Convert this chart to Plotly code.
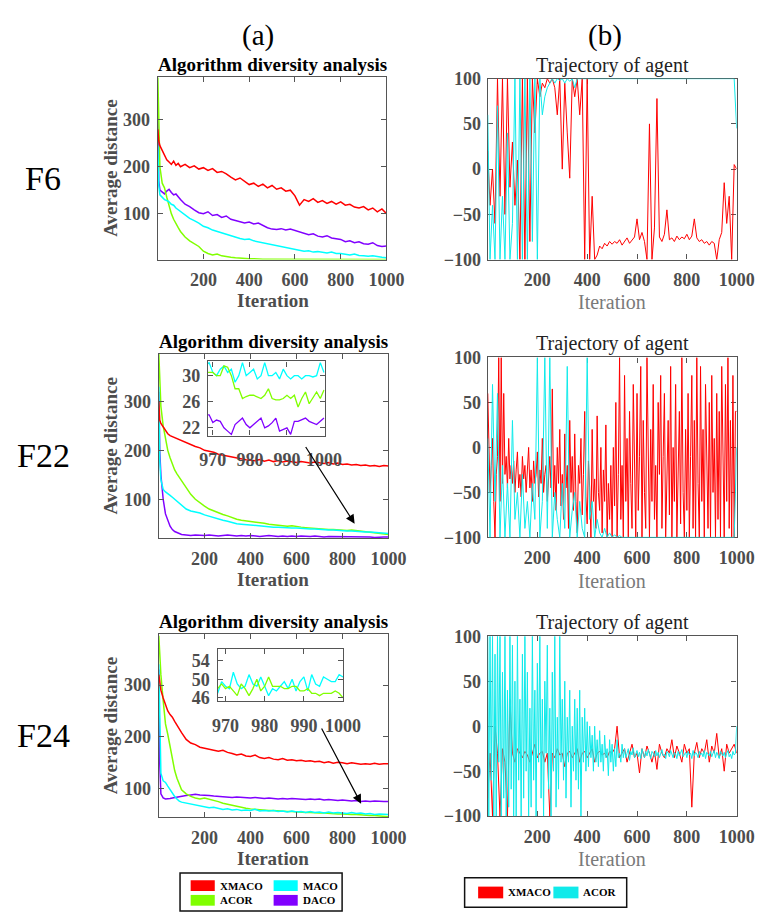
import plotly.graph_objects as go

# ---------------- data ----------------
DIV_ITER = [1, 5, 10, 20, 30, 40, 50, 60, 70, 80, 90, 100,
            120, 140, 160, 180, 200, 220, 240, 260, 280, 300,
            320, 340, 360, 380, 400, 420, 440, 460, 480, 500,
            520, 540, 560, 580, 600, 620, 640, 660, 680, 700,
            720, 740, 760, 780, 800, 820, 840, 860, 880, 900,
            920, 940, 960, 980, 1000]

# F6 diversity
F6_XMACO = [280, 255, 245, 235, 222, 215, 210, 205, 212, 203,
            207, 200, 205, 198, 202, 195, 198, 192, 196, 188,
            190, 185, 178, 172, 176, 168, 162, 165, 158, 163,
            155, 160, 152, 155, 148, 150, 138, 118, 130, 126,
            132, 124, 128, 122, 126, 120, 125, 118, 120, 114,
            112, 115, 108, 112, 104, 110, 100]
F6_MACO = [245, 160, 140, 135, 130, 128, 125, 120, 118, 112,
           108, 105, 98, 90, 85, 80, 73, 70, 65, 62,
           58, 55, 52, 50, 47, 45, 46, 42, 40, 38,
           35, 33, 31, 30, 28, 26, 23, 22, 20, 21,
           18, 19, 17, 16, 18, 15, 15, 13, 12, 14,
           11, 10, 9, 10, 8, 7, 6]
F6_ACOR = [390, 260, 200, 165, 155, 135, 115, 100, 88, 78,
           70, 62, 50, 42, 36, 30, 20, 15, 12, 14,
           10, 8, 7, 6, 5, 5, 4, 4, 3, 3,
           3, 3, 2, 2, 2, 2, 2, 2, 2, 2,
           2, 2, 2, 2, 2, 2, 2, 2, 2, 2,
           2, 2, 2, 2, 2, 2, 2]
F6_DACO = [325, 170, 150, 145, 142, 148, 152, 145, 140, 142,
           135, 130, 120, 115, 108, 102, 100, 104, 96, 98,
           92, 95, 88, 85, 82, 80, 82, 78, 80, 75,
           70, 67, 66, 68, 65, 67, 64, 62, 58, 55,
           57, 52, 50, 53, 48, 46, 45, 40, 42, 38,
           40, 36, 35, 38, 32, 30, 31]

# F22 diversity
F22_XMACO = [300, 262, 255, 248, 240, 234, 230, 228, 225, 223,
             222, 220, 215, 212, 208, 205, 200, 198, 196, 192,
             190, 188, 186, 184, 182, 181, 180, 179, 181, 178,
             180, 177, 179, 176, 178, 177, 175, 177, 176, 174,
             176, 175, 173, 175, 172, 174, 171, 172, 170, 171,
             169, 170, 168, 169, 167, 169, 168]
F22_MACO = [330, 180, 140, 120, 115, 112, 108, 104, 100, 96,
            92, 88, 80, 76, 74, 72, 68, 65, 62, 60,
            57, 55, 52, 50, 49, 48, 47, 46, 45, 45,
            44, 43, 43, 42, 42, 41, 41, 40, 40, 39,
            39, 38, 38, 37, 37, 36, 36, 35, 35, 34,
            34, 33, 33, 32, 31, 31, 30]
F22_ACOR = [398, 330, 290, 250, 220, 200, 185, 172, 160, 152,
            145, 138, 122, 110, 100, 92, 86, 80, 76, 72,
            69, 66, 62, 59, 57, 56, 55, 54, 53, 51,
            49, 48, 47, 46, 45, 46, 44, 43, 42, 41,
            40, 40, 39, 38, 38, 37, 37, 36, 37, 36,
            35, 34, 33, 31, 30, 29, 28]
F22_DACO = [320, 200, 150, 100, 70, 55, 45, 38, 34, 32,
            30, 28, 27, 26, 27, 26, 26, 27, 26, 25,
            26, 27, 26, 25, 26, 25, 26, 25, 24, 25,
            26, 25, 24, 25, 24, 25, 24, 25, 24, 24,
            25, 24, 23, 24, 24, 23, 24, 23, 24, 23,
            23, 24, 23, 22, 23, 23, 23]

# F24 diversity
F24_XMACO = [320, 300, 290, 275, 260, 250, 243, 238, 230, 222,
             215, 208, 195, 188, 185, 180, 178, 176, 175, 172,
             174, 170, 168, 165, 167, 163, 162, 165, 160, 158,
             160, 157, 156, 158, 155, 156, 154, 155, 153, 154,
             152, 153, 150, 152, 149, 151, 150, 148, 150, 149,
             147, 148, 147, 149, 147, 148, 148]
F24_MACO = [340, 200, 130, 115, 112, 105, 98, 90, 85, 80,
            76, 74, 72, 70, 68, 66, 65, 63, 64, 62,
            60, 61, 59, 60, 58, 59, 58, 60, 57, 58,
            57, 58, 56, 57, 55, 57, 55, 56, 54, 56,
            54, 55, 53, 55, 53, 54, 53, 52, 54, 52,
            53, 51, 52, 50, 51, 50, 50]
F24_ACOR = [395, 350, 320, 270, 225, 205, 180, 155, 135, 120,
            108, 98, 90, 85, 82, 80, 82, 80, 78, 75,
            72, 70, 67, 65, 63, 62, 61, 60, 60, 59,
            58, 58, 57, 57, 56, 56, 55, 55, 54, 54,
            53, 53, 53, 52, 52, 51, 51, 50, 50, 50,
            49, 49, 48, 48, 47, 47, 46]
F24_DACO = [330, 150, 90, 82, 80, 80, 81, 82, 83, 84,
            85, 85, 87, 88, 89, 88, 88, 87, 86, 85,
            85, 84, 83, 84, 83, 82, 82, 83, 82, 81,
            82, 81, 80, 81, 80, 81, 80, 80, 79, 80,
            79, 80, 78, 79, 78, 77, 78, 77, 76, 77,
            75, 76, 75, 76, 75, 75, 75]

# zoomed insets (iterations 968..1000)
INSET_ITER = [968, 969, 970, 971, 972, 973, 974, 975, 976, 977,
              978, 979, 980, 981, 982, 983, 984, 985, 986, 987,
              988, 989, 990, 991, 992, 993, 994, 995, 996, 997,
              998, 999, 1000]
F22_IN_MACO = [31.5, 32, 30.5, 30, 31, 31.5, 30.5, 31, 29, 30,
               32, 30, 30.5, 31, 29.5, 30, 32, 30, 30, 30.5,
               29.5, 31, 30, 29.5, 30, 30, 29.5, 30, 30, 29.8,
               30, 32, 30.5]
F22_IN_ACOR = [30.5, 30.5, 30.5, 30, 30, 31.5, 31.3, 30, 28, 28,
               26.5, 26.8, 27, 27, 26.8, 26.5, 27, 28, 26.5, 26.3,
               26.3, 26.5, 27, 26.5, 27, 25.2, 26.5, 27.5, 25.7, 26.5,
               27.5, 26.5, 27.8]
F22_IN_DACO = [24, 24, 22.8, 23.2, 23, 22, 21.5, 21, 22.5, 23,
               23.5, 22.5, 22, 22.5, 23, 23.5, 22, 22.3, 22.8, 23.5,
               21.5, 21.8, 22, 21, 23, 23, 23.2, 23.5, 23, 22.8,
               22.5, 23, 23.5]
F24_IN_MACO = [47, 49.5, 48.5, 48, 51.5, 49, 48, 48.5, 51, 49,
               48.5, 50.5, 48.5, 46.5, 48, 47.5, 48.5, 49.5, 48, 50,
               47.5, 49.5, 50.5, 47.5, 51, 49, 48.5, 50.5, 50, 49.5,
               49.5, 51, 50.5]
F24_IN_ACOR = [48, 49, 48, 48.5, 47.5, 46.5, 49, 48, 46.5, 48,
               50, 47.5, 48.5, 50.5, 48.5, 48.5, 48.5, 48, 48, 48.5,
               48.5, 47.5, 47.5, 48, 47, 47, 46.5, 47, 47, 47,
               47.5, 47, 46]

# trajectories: coarse (1, 10, 20, ..., 1000) and fine (1, 5, 10, ..., 1000) sampling
TRAJ_ITER = [1] + list(range(10, 1001, 10))
TRAJ_ITER_FINE = [1] + list(range(5, 1001, 5))
F6_TR_XMACO = [20, -40, 0, -60, 100, -30, 100, -50, 100, -20,
               30, -40, 10, -100, 100, -100, 100, -80, 100, 40,
               100, 80, 95, 90, 100, 95, 100, 90, 60, 100,
               0, 95, 40, -10, 100, 80, 100, 60, 100, -100,
               100, -100, -30, -100, -95, -85, -88, -82, -85, -80,
               -83, -80, -82, -78, -84, -80, -76, -82, -78, -75,
               -55, -78, -70, -80, -100, 50, -100, -65, 78, -75,
               -80, -72, -45, -78, -76, -80, -74, -78, -75, -77,
               -72, -78, -74, -55, -76, -80, -78, -82, -80, -84,
               -80, -82, -100, -78, -70, -15, -60, -30, -100, 5,
               0]
F6_TR_ACOR = [60, -100, -40, -100, 70, -100, -30, -100, 40, -100,
              -60, 100, -100, 100, -100, 100, -100, 100, -80, 100,
              -100, 100, 60, 80, 90, 95, 100, 95, 100, 98,
              100, 95, 100, 97, 100, 90, 100, 100, 100, 100,
              100, 100, 100, 100, 100, 100, 100, 100, 100, 100,
              100, 100, 100, 100, 100, 100, 100, 100, 100, 100,
              100, 100, 100, 100, 100, 100, 100, 100, 100, 100,
              100, 100, 100, 100, 100, 100, 100, 100, 100, 100,
              100, 100, 100, 100, 100, 100, 100, 100, 100, 100,
              100, 100, 100, 100, 100, 100, 100, 100, 100, 100,
              45]
F22_TR_XMACO = [60, 0, -50, -20, 10, -60, -100, -30, -10, 100,
                -60, 100, -40, 60, -30, -10, -45, 10, -35, -20,
                -40, -15, -50, -25, -5, -45, -30, -55, -10, -35,
                -20, -50, -30, 0, -45, -25, -60, -15, -40, -30,
                -5, -55, -25, -40, 10, -50, -30, -20, -60, -35,
                -10, -45, 65, -55, -20, -70, 0, -40, 20, -65,
                -30, -80, 15, -45, -20, -90, 30, -50, -10, -70,
                15, -60, -95, -20, -40, 10, -75, -30, 40, -55,
                -85, -15, -45, -100, 20, -60, -35, -90, 35, -50,
                -70, 0, -95, -25, -60, 25, -100, -40, -80, -20,
                -100, 0, -65, 50, -100, -30, 100, -80, -20, -100,
                80, -60, 10, -100, 40, -40, -90, 70, -20, -100,
                60, -70, -10, 90, -100, 30, -50, -90, 100, -40,
                -100, 20, -60, 70, -80, -20, -100, 50, -30, 80,
                -90, -10, 60, -100, -40, 30, -75, 90, -100, 0,
                -60, 70, -100, -20, 40, -85, 100, -50, -100, 20,
                -70, 60, -100, -10, 80, -90, 30, -100, 100, -40,
                -100, 90, -60, 20, -100, 70, -30, -90, 50, -100,
                80, -50, 10, -100, 60, -80, 40, -100, 90, -20,
                -100, 70, -60, 100, -90, 30, -100, 80, -100, 40,
                40]
F22_TR_ACOR = [10, -100, 70, -60, 60, -100, -20, -100, -40, -100,
               30, -80, -50, -100, -30, -90, -60, -100, -40, -80,
               100, -100, -60, 100, -90, 100, -100, -50, -80, -100,
               -40, -90, 90, -100, -70, -50, -100, -60, -90, -100,
               100, -80, -60, -100, -80, -95, -100, -90, -100, -95,
               -100, -97, -100, -98, -100, -100, -100, -100, -100, -100,
               -100, -100, -100, -100, -100, -100, -100, -100, -100, -100,
               -100, -100, -100, -100, -100, -100, -100, -100, -100, -100,
               -100, -100, -100, -100, -100, -100, -100, -100, -100, -100,
               -100, -100, -100, -100, -100, -100, -100, -100, -100, -100,
               0]
F24_TR_XMACO = [-80, -30, -100, 0, -30, -100, -25, -40, -100, 30,
                -30, -40, -25, -30, -35, -28, -32, -40, -30, -20,
                -35, -30, -28, -40, -30, -100, -30, -35, -25, -32,
                -30, -45, -30, -28, -35, -30, -25, -40, -30, -28,
                -35, -30, -25, -40, -30, -28, -32, -30, -35, -28,
                -30, -25, 0, -35, -30, -25, -40, -30, -20, -35,
                -30, -52, -25, -35, -22, -30, -40, -28, -48, -20,
                -30, -35, -25, -30, -15, -35, -22, -30, -40, -20,
                -30, -25, -90, -30, -18, -35, -25, -30, -15, -40,
                -22, -30, -8, -35, -25, -50, -20, -30, -25, -20,
                -30]
F24_TR_ACOR = [100, -100, 100, -60, 100, -100, 80, -100, 100, -40,
               100, -100, 60, -80, 100, -100, 40, -90, 100, -70,
               90, -100, 50, -100, 100, -60, 30, -100, 80, -80,
               100, -50, 60, -100, 20, -90, 100, -60, 40, -100,
               70, -40, 100, -80, 30, -100, 50, -30, 90, -70,
               20, -100, 60, -50, 100, -90, 10, -70, 100, -40,
               30, -60, 50, -80, 10, -40, 40, -90, 0, -50,
               30, -60, 20, -70, 40, -100, 10, -40, 20, -50,
               5, -45, 0, -35, -10, -50, 0, -40, -15, -45,
               -5, -40, -20, -50, -10, -35, -25, -55, -15, -40,
               -20, -50, -25, -45, -15, -35, -30, -40, -20, -35,
               -25, -35, -30, -25, -38, -28, -32, -24, -35, -30,
               -27, -34, -29, -36, -25, -31, -35, -28, -33, -26,
               -32, -36, -28, -30, -34, -27, -33, -29, -35, -30,
               -26, -33, -31, -36, -28, -30, -34, -27, -32, -35,
               -29, -31, -36, -28, -33, -30, -26, -34, -31, -29,
               -35, -28, -32, -30, -36, -27, -33, -29, -31, -35,
               -28, -32, -30, -34, -27, -36, -29, -31, -33, -28,
               -34, -30, -27, -35, -29, -32, -36, -28, -31, -33,
               -29, -35, -30, -27, -34, -31, -36, -28, -32, -30,
               0]

X_TICKS = [200, 400, 600, 800, 1000]
DIV_Y_TICKS = [100, 200, 300]
TR_Y_TICKS = [-100, -50, 0, 50, 100]
F22_IN_Y_TICKS = [22, 26, 30]
F24_IN_Y_TICKS = [46, 50, 54]
IN_X_TICKS = [970, 980, 990, 1000]
ROW_LABELS = ["F6", "F22", "F24"]
LEFT_LEGEND = ["XMACO", "MACO", "ACOR", "DACO"]
RIGHT_LEGEND = ["XMACO", "ACOR"]

# ---------------- style ----------------
W, H = 765, 916
SERIF = "Liberation Serif"
FRAME = "#555555"
TICKTXT = "#4d4d4d"
C_X, C_M, C_A, C_D = "#ff0000", "#00ffff", "#80ff00", "#8000ff"
C_TRC = "#10eaea"


def bold_font(size, color):
    return dict(family=SERIF, size=size, color=color, weight="bold")


def px_x(p):
    return p / W


def px_y(p):
    return 1 - p / H


def xr(i):
    return "x" if i == 1 else f"x{i}"


def yr(i):
    return "y" if i == 1 else f"y{i}"


fig = go.Figure()
layout = {}


def add_line(i, x, y, color, width):
    assert len(x) == len(y), (len(x), len(y))
    fig.add_trace(go.Scatter(x=x, y=y, xaxis=xr(i), yaxis=yr(i), mode="lines",
                             line=dict(color=color, width=width),
                             showlegend=False, hoverinfo="skip"))


def set_axes(i, xpx, ypx, xrange, yrange, xt, yt, layer="above traces",
             xstand=4, ystand=3, fsize=18):
    common = dict(showline=True, linecolor=FRAME, linewidth=1.4, mirror="ticks",
                  ticks="inside", ticklen=5, tickwidth=1.2, tickcolor=FRAME,
                  showgrid=False, zeroline=False, layer=layer,
                  tickfont=bold_font(fsize, TICKTXT))
    xk = "xaxis" if i == 1 else f"xaxis{i}"
    yk = "yaxis" if i == 1 else f"yaxis{i}"
    layout[xk] = dict(domain=[px_x(xpx[0]), px_x(xpx[1])], anchor=yr(i), range=xrange,
                      tickvals=xt, ticklabelstandoff=xstand, **common)
    layout[yk] = dict(domain=[px_y(ypx[1]), px_y(ypx[0])], anchor=xr(i), range=yrange,
                      tickvals=yt, ticklabelstandoff=ystand, **common)


# left diversity panels (axes 1..3)
left_rows = [
    (1, (146, 383), (60, 247), [2, 392], (F6_XMACO, F6_MACO, F6_ACOR, F6_DACO)),
    (2, (147, 385), (343, 532), [20, 398], (F22_XMACO, F22_MACO, F22_ACOR, F22_DACO)),
    (3, (147, 385), (630, 817), [45, 398], (F24_XMACO, F24_MACO, F24_ACOR, F24_DACO)),
]
for i, xpx, ypx, yrange, (sx, sm, sa, sd) in left_rows:
    set_axes(i, xpx, ypx, [1, 1000], yrange, X_TICKS, DIV_Y_TICKS)
    add_line(i, DIV_ITER, sd, C_D, 1.5)
    add_line(i, DIV_ITER, sa, C_A, 1.5)
    add_line(i, DIV_ITER, sm, C_M, 1.5)
    add_line(i, DIV_ITER, sx, C_X, 1.5)

# right trajectory panels (axes 4..6)
right_rows = [
    (4, (62, 247), (TRAJ_ITER, F6_TR_XMACO), (TRAJ_ITER, F6_TR_ACOR)),
    (5, (347, 531), (TRAJ_ITER_FINE, F22_TR_XMACO), (TRAJ_ITER, F22_TR_ACOR)),
    (6, (632, 816), (TRAJ_ITER, F24_TR_XMACO), (TRAJ_ITER_FINE, F24_TR_ACOR)),
]
for i, ypx, (ix, tx), (ia, ta) in right_rows:
    set_axes(i, (488, 746), ypx, [1, 1000], [-100, 100], X_TICKS, TR_Y_TICKS,
             layer="below traces", ystand=2)
    add_line(i, ix, tx, C_X, 1.0)
    add_line(i, ia, ta, C_TRC, 1.0)

# insets (axes 7, 8)
set_axes(7, (198, 319), (351, 427), [968.7, 1000.2], [20.8, 32.2], IN_X_TICKS,
         F22_IN_Y_TICKS, xstand=8)
add_line(7, INSET_ITER, F22_IN_MACO, C_M, 1.3)
add_line(7, INSET_ITER, F22_IN_ACOR, C_A, 1.3)
add_line(7, INSET_ITER, F22_IN_DACO, C_D, 1.3)
set_axes(8, (208, 338), (645, 698), [968, 1000], [45.4, 56.5], IN_X_TICKS,
         F24_IN_Y_TICKS, xstand=8)
add_line(8, INSET_ITER, F24_IN_MACO, C_M, 1.3)
add_line(8, INSET_ITER, F24_IN_ACOR, C_A, 1.3)

ann = []


def text(x, y, s, size, color="#000000", bold=False, xanchor="center",
         yanchor="middle", angle=0):
    font = bold_font(size, color) if bold else dict(family=SERIF, size=size, color=color)
    ann.append(dict(x=px_x(x), y=px_y(y), xref="paper", yref="paper", text=s,
                    showarrow=False, xanchor=xanchor, yanchor=yanchor, textangle=angle,
                    font=font))


text(250, 18, "(a)", 29)
text(610, 18, "(b)", 29)
for lbl, yy in zip(ROW_LABELS, [164, 447, 734]):
    text(27, yy, lbl, 34)

for top, bot, xl in [(60, 247, 264.5), (343, 532, 266), (630, 817, 266)]:
    text(xl, top, "Algorithm diversity analysis", 19, bold=True, yanchor="bottom")
    text(97, (top + bot) / 2, "Average distance", 19, color=TICKTXT, bold=True, angle=-90)
for yy in [289, 574, 859]:
    text(265, yy, "Iteration", 19, color=TICKTXT, bold=True)
for top, yy in [(62, 290), (347, 576), (632, 860)]:
    text(617, top, "Trajectory of agent", 20, color="#222222", yanchor="bottom")
    text(617, yy, "Iteration", 20, color="#7a7a7a")

# arrows from insets to the zoomed region
ann.append(dict(x=853, y=50, ax=636, ay=210, xref="x2", yref="y2", axref="x2", ayref="y2",
                text="", showarrow=True, arrowhead=2, arrowsize=1.5, arrowwidth=1.2,
                arrowcolor="#000000"))
ann.append(dict(x=881, y=71, ax=706, ay=219, xref="x3", yref="y3", axref="x3", ayref="y3",
                text="", showarrow=True, arrowhead=2, arrowsize=1.5, arrowwidth=1.2,
                arrowcolor="#000000"))

shapes = []


def rect(x0, y0, x1, y1, fill, line_color, lw):
    shapes.append(dict(type="rect", xref="paper", yref="paper",
                       x0=px_x(x0), x1=px_x(x1), y0=px_y(y1), y1=px_y(y0),
                       fillcolor=fill, line=dict(color=line_color, width=lw)))


# left legend
rect(169, 874, 337, 913, "white", "#111111", 1.5)
left_items = [(LEFT_LEGEND[0], C_X, 180, 887), (LEFT_LEGEND[1], C_M, 266, 887),
              (LEFT_LEGEND[2], C_A, 180, 902), (LEFT_LEGEND[3], C_D, 266, 902)]
for name, col, x0, yc in left_items:
    rect(x0, yc - 5.5, x0 + 25, yc + 5.5, col, col, 0)
    text(x0 + 28, yc, name, 11, bold=True, xanchor="left")

# right legend
rect(464, 879, 632, 909, "white", "#111111", 1.5)
for name, col, x0 in [(RIGHT_LEGEND[0], C_X, 478), (RIGHT_LEGEND[1], C_TRC, 556)]:
    rect(x0, 888, x0 + 26, 900, col, col, 0)
    text(x0 + 29, 894, name, 11, bold=True, xanchor="left")

fig.update_layout(
    width=W, height=H, margin=dict(l=0, r=0, t=0, b=0),
    paper_bgcolor="white", plot_bgcolor="white", showlegend=False,
    annotations=ann, shapes=shapes, **layout,
)

fig.write_html("out.html")
